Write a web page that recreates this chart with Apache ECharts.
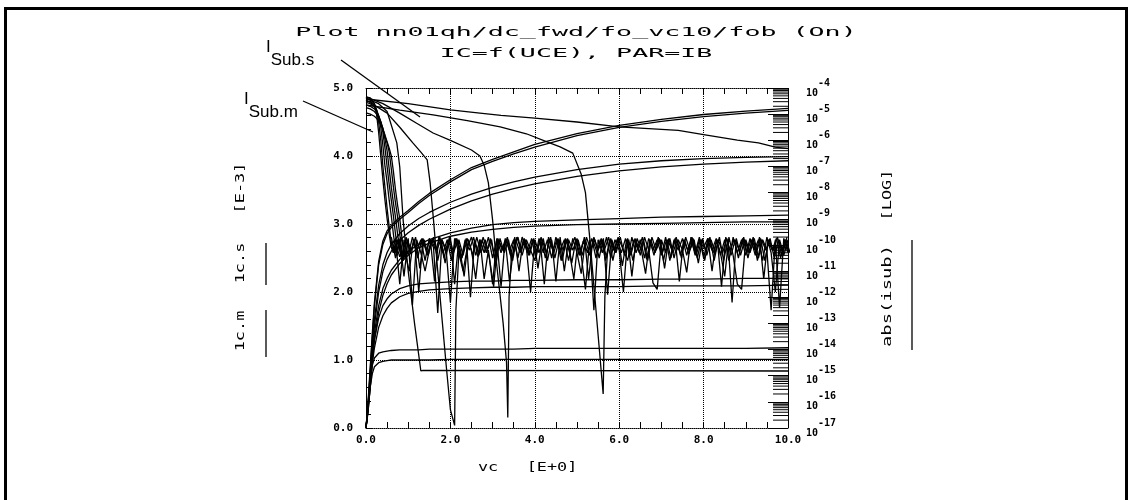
<!DOCTYPE html>
<html><head><meta charset="utf-8">
<script src="https://cdn.jsdelivr.net/npm/echarts@6/dist/echarts.min.js"></script>
<style>html,body{margin:0;padding:0;background:#fff}#c{width:1133px;height:500px}</style>
</head><body><div id="c"></div>
<script>
// ---------- IC curves (left axis, E-3) ----------
const xIC = [0,0.05,0.1,0.15,0.2,0.3,0.4,0.5,0.6,0.8,1.0,1.25,1.5,2.0,2.5,3.0,3.5,4.0,5.0,6.0,7.0,8.0,9.0,10.0];
const icA_m = [0,0.4,0.9,1.4,1.85,2.45,2.75,2.9,2.98,3.1,3.2,3.33,3.45,3.65,3.83,3.95,4.06,4.17,4.33,4.45,4.54,4.61,4.66,4.7];
const icA_s = [0,0.35,0.85,1.35,1.8,2.4,2.7,2.86,2.95,3.07,3.17,3.3,3.42,3.62,3.8,3.92,4.03,4.13,4.3,4.42,4.51,4.58,4.63,4.67];
const icB_m = [0,0.35,0.8,1.25,1.6,2.1,2.4,2.58,2.7,2.86,2.97,3.08,3.17,3.32,3.44,3.54,3.62,3.69,3.8,3.88,3.93,3.96,3.98,3.99];
const icB_s = [0,0.3,0.75,1.2,1.5,2.0,2.3,2.48,2.6,2.76,2.87,2.98,3.07,3.22,3.34,3.44,3.52,3.59,3.7,3.78,3.84,3.88,3.91,3.93];
const icC_m = [0,0.3,0.7,1.1,1.4,1.8,2.05,2.2,2.32,2.48,2.6,2.7,2.77,2.87,2.94,2.99,3.02,3.04,3.06,3.08,3.1,3.11,3.12,3.13];
const icC_s = [0,0.25,0.6,1.0,1.3,1.7,1.95,2.12,2.25,2.42,2.54,2.65,2.72,2.82,2.88,2.92,2.95,2.97,2.99,3.0,3.01,3.02,3.03,3.03];
const icD_m = [0,0.3,0.7,1.05,1.3,1.62,1.8,1.9,1.97,2.05,2.09,2.12,2.13,2.15,2.16,2.16,2.17,2.17,2.18,2.18,2.19,2.19,2.2,2.2];
const icD_s = [0,0.25,0.6,0.95,1.18,1.48,1.65,1.76,1.84,1.93,1.98,2.01,2.03,2.05,2.06,2.07,2.07,2.08,2.08,2.08,2.09,2.09,2.09,2.1];
const icE_m = [0,0.35,0.7,0.92,1.03,1.1,1.12,1.13,1.14,1.15,1.15,1.15,1.16,1.16,1.16,1.16,1.16,1.17,1.17,1.17,1.17,1.17,1.17,1.18];
const icE_s = [0,0.3,0.6,0.8,0.9,0.96,0.98,0.99,1.0,1.0,1.0,1.0,1.0,1.01,1.01,1.01,1.01,1.01,1.01,1.01,1.01,1.01,1.01,1.01];

// ---------- abs(isub) curves (right axis, log10 exponents) ----------
const xBundle = [0,0.1,0.2,0.25,0.3,0.35,0.4,0.45,0.5,0.55,0.6,0.65,0.7,0.75,0.8,0.85,0.9,0.95];
const subB1 = [-4.34,-4.38,-4.6,-5.0,-5.7,-6.6,-7.5,-8.3,-9.0,-9.6,-10.1,-10.3];
const subB2 = [-4.4,-4.45,-4.6,-4.85,-5.3,-6.0,-7.0,-7.8,-8.6,-9.3,-9.9,-10.3,-10.1];
const subB3 = [-4.48,-4.52,-4.66,-4.82,-5.1,-5.5,-6.2,-7.0,-7.6,-8.3,-8.9,-9.6,-10.2,-10.4];
const subB4 = [-4.55,-4.6,-4.72,-4.86,-5.05,-5.3,-5.7,-6.3,-7.0,-7.7,-8.3,-8.9,-9.6,-10.2,-10.45,-10.2];
const subB5 = [-4.65,-4.7,-4.8,-4.92,-5.08,-5.28,-5.55,-5.95,-6.4,-7.1,-7.8,-8.4,-8.95,-9.6,-10.2,-10.5,-10.2];
const subB6 = [-4.75,-4.8,-4.9,-5.0,-5.15,-5.32,-5.55,-5.85,-6.1,-6.45,-7.1,-7.8,-8.4,-8.95,-9.6,-10.2,-10.5,-10.2];
const subB7 = [-4.95,-5.0,-5.08,-5.16,-5.26,-5.4,-5.58,-5.8,-6.05,-6.3,-6.6,-7.2,-7.9,-8.5,-9.0,-9.7,-10.3,-10.5];

const xL1 = [0,1,2,2.7,3.2,4,5,6,7,7.4,8,8.8,9.3,9.7,10];
const subL1 = [-4.42,-4.6,-4.84,-4.96,-5.05,-5.15,-5.3,-5.49,-5.58,-5.62,-5.78,-5.99,-6.1,-6.26,-6.32];
const xS2 = [0,0.8,1.59,2.4,3.18,3.8,4.29,4.6,4.9,5.1,5.2,5.3,5.45,5.62,5.66,5.72];
const subS2 = [-4.65,-4.85,-5.03,-5.25,-5.49,-5.75,-6.06,-6.25,-6.49,-7.3,-8.0,-9.7,-12.5,-15.7,-12.0,-10.3];
const xS3 = [0,0.4,0.8,1.2,1.59,2.0,2.5,2.7,2.8,2.9,3.0,3.1,3.25,3.33,3.36,3.39,3.45];
const subS3 = [-4.34,-4.6,-4.96,-5.35,-5.72,-6.0,-6.37,-6.6,-6.95,-7.63,-9.05,-10.8,-13.0,-14.5,-16.6,-12.0,-10.3];
const xS4 = [0,0.5,0.8,1.11,1.3,1.45,1.52,1.6,1.7,1.8,1.9,2.0,2.1,2.13,2.2];
const subS4 = [-4.46,-4.96,-5.5,-6.1,-6.45,-6.75,-7.63,-9.05,-11.0,-12.8,-14.6,-16.3,-16.9,-12.5,-10.3];
const xS5 = [0,0.3,0.5,0.73,0.8,0.88,1.0,1.15,1.3,1.35,10];
const subS5 = [-4.4,-4.6,-4.9,-6.1,-7.02,-9.05,-11.0,-13.0,-14.82,-14.8,-14.82];

// measured noise floor, sampled every 0.1 V (five interleaved sweeps)
const noiseStep = 0.1;
const noiseStarts = [0.6, 0.6, 0.65, 0.625, 0.675];
const noise1 = [-10.0,-9.8,-11.5,-9.8,-10.4,-9.7,-10.2,-9.8,-10.6,-9.75,-10.1,-12.6,-9.8,-10.3,-9.7,-11.5,-9.8,-10.4,-9.75,-10.2,-11.3,-9.8,-10.3,-9.7,-10.5,-9.8,-11.6,-9.75,-10.2,-9.8,-10.5,-9.7,-10.1,-11.8,-9.8,-10.3,-9.75,-10.6,-9.8,-11.4,-9.7,-11.0,-9.8,-10.2,-9.75,-10.4,-11.7,-9.8,-12.5,-9.8,-10.3,-9.7,-10.5,-9.8,-10.2,-11.8,-9.75,-11.2,-9.8,-10.4,-9.7,-10.2,-11.45,-11.7,-9.8,-10.3,-9.75,-10.5,-9.8,-10.2,-11.05,-9.7,-10.4,-9.8,-10.1,-9.75,-11.0,-9.8,-10.3,-11.2,-9.7,-10.4,-11.5,-11.7,-9.8,-10.3,-9.75,-10.5,-9.8,-10.2,-12.5,-9.8,-12.4,-9.75,-10.3];
const noise2 = [-9.7,-10.5,-9.8,-11.2,-9.75,-12.3,-9.8,-10.3,-11.0,-10.2,-9.7,-10.6,-9.8,-10.2,-12.2,-9.75,-10.3,-11.0,-10.1,-9.7,-10.4,-9.8,-11.3,-10.2,-11.5,-9.75,-10.3,-9.8,-11.4,-10.1,-9.7,-10.4,-9.8,-10.2,-10.6,-9.75,-10.3,-9.8,-10.5,-9.7,-10.2,-9.8,-10.6,-9.75,-10.3,-11.1,-9.8,-10.4,-9.7,-10.2,-9.8,-10.5,-9.75,-10.3,-9.8,-10.2,-10.6,-9.7,-10.3,-9.8,-10.5,-9.75,-10.2,-9.8,-10.4,-9.7,-10.6,-9.8,-10.2,-9.75,-10.4,-9.8,-10.3,-9.7,-10.5,-9.8,-10.2,-9.75,-10.4,-9.8,-10.6,-9.7,-10.3,-9.8,-10.4,-9.75,-10.2,-9.8,-10.6,-9.7,-10.3,-11.8,-9.8,-10.4,-9.8];
const noise3 = [-10.2,-9.8,-10.6,-9.7,-10.3,-9.8,-11.8,-9.75,-10.4,-9.8,-10.2,-9.7,-10.5,-9.8,-10.35,-9.75,-10.6,-9.8,-10.2,-9.7,-10.45,-9.8,-10.3,-9.75,-10.5,-9.85,-10.2,-9.7,-10.6,-9.8,-10.3,-9.75,-10.4,-9.8,-10.25,-9.7,-10.5,-9.8,-10.3,-9.75,-10.6,-9.8,-10.2,-9.7,-10.4,-9.85,-10.3,-9.75,-10.5,-9.8,-10.2,-9.7,-10.6,-9.8,-10.3,-9.75,-10.4,-9.8,-10.2,-9.7,-10.55,-9.8,-10.3,-9.75,-10.6,-9.8,-10.2,-9.7,-10.4,-9.8,-10.35,-9.75,-10.5,-9.8,-10.2,-9.7,-10.6,-9.8,-10.3,-9.75,-10.4,-9.8,-10.25,-9.7,-10.5,-9.8,-10.3,-9.75,-10.6,-9.8,-10.2,-9.7,-10.4,-9.8,-10.3];
const noise4 = [-9.9,-10.4,-9.7,-10.3,-11.0,-9.8,-10.5,-9.75,-10.2,-9.8,-11.4,-9.7,-10.3,-9.8,-10.6,-9.75,-10.2,-11.2,-9.8,-10.4,-9.7,-10.3,-9.8,-10.5,-11.6,-9.75,-10.2,-9.8,-10.4,-9.7,-11.0,-9.8,-10.3,-9.75,-10.5,-9.8,-11.5,-9.7,-10.2,-9.8,-10.6,-9.75,-10.3,-11.3,-9.8,-10.4,-9.7,-10.2,-9.8,-10.5,-9.75,-11.9,-9.8,-10.3,-9.7,-10.4,-9.8,-10.6,-9.75,-10.2,-11.1,-9.8,-10.4,-9.7,-10.3,-9.8,-10.5,-9.75,-11.4,-9.8,-10.2,-9.7,-10.4,-9.8,-10.6,-9.75,-10.3,-9.8,-11.6,-9.7,-10.2,-9.8,-10.5,-9.75,-10.3,-9.8,-10.4,-9.7,-11.3,-9.8,-10.2,-9.75,-10.5,-9.8,-10.3];
const noise5 = [-10.3,-9.75,-10.6,-9.8,-10.2,-9.7,-10.9,-9.8,-10.4,-9.75,-10.2,-9.8,-10.7,-9.7,-10.3,-9.8,-10.5,-9.75,-12.0,-9.8,-10.4,-9.7,-10.2,-9.8,-10.8,-9.75,-10.3,-9.8,-10.6,-9.7,-10.2,-9.8,-10.4,-9.75,-10.9,-9.8,-10.3,-9.7,-10.5,-9.8,-10.2,-9.75,-10.7,-9.8,-10.4,-9.7,-11.3,-9.8,-10.3,-9.75,-10.6,-9.8,-10.2,-9.7,-10.8,-9.8,-10.4,-9.75,-10.3,-9.8,-10.6,-9.7,-10.2,-9.8,-10.9,-9.75,-10.3,-9.8,-10.5,-9.7,-10.2,-9.8,-10.7,-9.75,-10.4,-9.8,-10.3,-9.7,-10.6,-9.8,-12.2,-9.75,-10.4,-9.8,-10.3,-9.7,-10.6,-9.8,-10.2,-9.75,-10.5,-9.8,-10.3,-9.7];

// ---------- axes ----------
const xTicks = ['0.0','2.0','4.0','6.0','8.0','10.0'];
const yTicks = ['0.0','1.0','2.0','3.0','4.0','5.0'];
const logMinExp = -17, logMaxExp = -4;
const logMinorMult = [2,3,4,5,6,7,8,9];

const MONO = '"DejaVu Sans Mono", "Liberation Mono", monospace';
const BLACK = '#000';

function icSeries(ys){
  return {type:'line', xAxisIndex:0, yAxisIndex:0, showSymbol:false, symbol:'none',
    lineStyle:{color:BLACK, width:1.3}, data: xIC.map((x,i)=>[x, ys[i]]), animation:false, silent:true};
}
function subSeries(xs, es){
  const n = Math.min(xs.length, es.length);
  const d = [];
  for (let i=0;i<n;i++) d.push([xs[i], Math.pow(10, es[i])]);
  return {type:'line', xAxisIndex:0, yAxisIndex:1, showSymbol:false, symbol:'none',
    lineStyle:{color:BLACK, width:1.3}, data:d, animation:false, silent:true};
}
function noiseSeries(start, es){
  const xs = es.map((_,i)=> +(start + noiseStep*i).toFixed(3));
  return subSeries(xs, es);
}

const series = [
  icSeries(icA_m), icSeries(icA_s), icSeries(icB_m), icSeries(icB_s),
  icSeries(icC_m), icSeries(icC_s), icSeries(icD_m), icSeries(icD_s),
  icSeries(icE_m), icSeries(icE_s),
  subSeries(xBundle, subB1), subSeries(xBundle, subB2), subSeries(xBundle, subB3),
  subSeries(xBundle, subB4), subSeries(xBundle, subB5), subSeries(xBundle, subB6),
  subSeries(xBundle, subB7),
  subSeries(xL1, subL1), subSeries(xS2, subS2), subSeries(xS3, subS3),
  subSeries(xS4, subS4), subSeries(xS5, subS5),
  noiseSeries(noiseStarts[0], noise1), noiseSeries(noiseStarts[1], noise2),
  noiseSeries(noiseStarts[2], noise3), noiseSeries(noiseStarts[3], noise4),
  noiseSeries(noiseStarts[4], noise5)
];

// log minor ticks on right axis
const minorVals = [];
for (let e = logMinExp; e < logMaxExp; e++) for (const m of logMinorMult) minorVals.push([10, m*Math.pow(10,e)]);
series.push({type:'custom', xAxisIndex:0, yAxisIndex:1, silent:true, animation:false, clip:false,
  data: minorVals,
  renderItem: function(params, api){
    const p = api.coord([api.value(0), api.value(1)]);
    return {type:'line', shape:{x1:p[0]-15, y1:p[1], x2:p[0], y2:p[1]}, style:{stroke:BLACK, lineWidth:1}};
  }});

const dotted = {color:BLACK, width:1, type:[1,1]};

function rotText(text, x, y, sx){
  return {type:'text', x:x, y:y, rotation:Math.PI/2, scaleX:sx, silent:true,
    style:{text:text, font:'13px ' + MONO, fill:BLACK, textAlign:'center', align:'center', textVerticalAlign:'middle', verticalAlign:'middle'}};
}
function hText(text, x, y, sx, size){
  return {type:'text', x:x, y:y, scaleX:sx, silent:true,
    style:{text:text, font:(size||12)+'px ' + MONO, fill:BLACK, textAlign:'center', align:'center', textVerticalAlign:'middle', verticalAlign:'middle'}};
}
function vLine(x, y1, y2){
  return {type:'line', silent:true, shape:{x1:x,y1:y1,x2:x,y2:y2}, style:{stroke:BLACK, lineWidth:1.3}};
}
const annoRich = {
  i:{fontFamily:'"Liberation Sans", Arial, sans-serif', fontSize:17, lineHeight:17, padding:[0,0,13,0], fill:BLACK, color:BLACK},
  s:{fontFamily:'"Liberation Sans", Arial, sans-serif', fontSize:17, lineHeight:17, padding:[13,0,0,0], fill:BLACK, color:BLACK}
};

const option = {
  backgroundColor:'#fff',
  animation:false,
  grid:{left:366, top:88, width:422, height:340, outerBoundsMode:'none', containLabel:false},
  xAxis:[
    {type:'value', position:'bottom', min:0, max:10, interval:2,
      axisLine:{show:true, onZero:false, lineStyle:dotted},
      axisTick:{show:true, inside:true, length:6, lineStyle:{color:BLACK}},
      minorTick:{show:true, splitNumber:4, length:6, lineStyle:{color:BLACK}},
      splitLine:{show:true, lineStyle:dotted},
      axisLabel:{margin:7, color:BLACK, fontFamily:MONO, fontWeight:'bold', fontSize:11,
        formatter:(v)=> xTicks[Math.round(v/2)]}},
    {type:'value', position:'top', min:0, max:10, interval:2,
      axisLine:{show:true, onZero:false, lineStyle:dotted},
      axisTick:{show:true, inside:true, length:6, lineStyle:{color:BLACK}},
      minorTick:{show:true, splitNumber:4, length:6, lineStyle:{color:BLACK}},
      splitLine:{show:false}, axisLabel:{show:false}}
  ],
  yAxis:[
    {type:'value', position:'left', min:0, max:5, interval:1,
      axisLine:{show:true, onZero:false, lineStyle:dotted},
      axisTick:{show:true, inside:true, length:6, lineStyle:{color:BLACK}},
      minorTick:{show:true, splitNumber:5, length:5, lineStyle:{color:BLACK}},
      splitLine:{show:true, lineStyle:dotted},
      axisLabel:{margin:13, color:BLACK, fontFamily:MONO, fontWeight:'bold', fontSize:11,
        formatter:(v)=> yTicks[Math.round(v)]}},
    {type:'log', logBase:10, position:'right', min:Math.pow(10,logMinExp), max:Math.pow(10,logMaxExp), interval:1,
      axisLine:{show:true, onZero:false, lineStyle:dotted},
      axisTick:{show:true, inside:true, length:20, lineStyle:{color:BLACK}},
      minorTick:{show:false}, splitLine:{show:false},
      axisLabel:{margin:18, color:BLACK,
        formatter:(v)=> '{b|10}{e|' + Math.round(Math.log10(v)) + '}',
        rich:{
          b:{fontFamily:MONO, fontWeight:'bold', fontSize:10, color:BLACK, padding:[10,0,0,0]},
          e:{fontFamily:MONO, fontWeight:'bold', fontSize:10, color:BLACK, padding:[0,0,10,0]}
        }}}
  ],
  graphic:[
    {type:'rect', silent:true, shape:{x:5.5, y:8.5, width:1121, height:600}, style:{fill:'transparent', stroke:BLACK, lineWidth:3}},
    hText('Plot nn01qh/dc_fwd/fo_vc10/fob (On)', 576, 33, 2.22, 12),
    hText('IC=f(UCE), PAR=IB', 576, 54, 2.22, 12),
    hText('vc', 488, 468, 1.4, 12),
    hText('[E+0]', 552, 468, 1.4, 12),
    rotText('[E-3]', 241, 188, 1.3),
    rotText('1c.s', 241, 263, 1.3),
    rotText('1c.m', 241, 331, 1.3),
    vLine(266, 243, 285), vLine(266, 310, 357),
    rotText('[LOG]', 888, 195, 1.3),
    rotText('abs(isub)', 888, 296, 1.45),
    vLine(912, 240, 350),
    {type:'text', x:266, y:45, silent:true, style:{text:'{i|I}{s|Sub.s}', rich:annoRich, textAlign:'left', align:'left', textVerticalAlign:'top', verticalAlign:'top'}},
    {type:'line', silent:true, shape:{x1:341,y1:60,x2:420,y2:117}, style:{stroke:BLACK, lineWidth:1.3}},
    {type:'text', x:244, y:97, silent:true, style:{text:'{i|I}{s|Sub.m}', rich:annoRich, textAlign:'left', align:'left', textVerticalAlign:'top', verticalAlign:'top'}},
    {type:'line', silent:true, shape:{x1:303,y1:101,x2:373,y2:132}, style:{stroke:BLACK, lineWidth:1.3}}
  ],
  series: series
};
const chart = echarts.init(document.getElementById('c'), null, {renderer:'canvas'});
chart.setOption(option);
</script></body></html>
